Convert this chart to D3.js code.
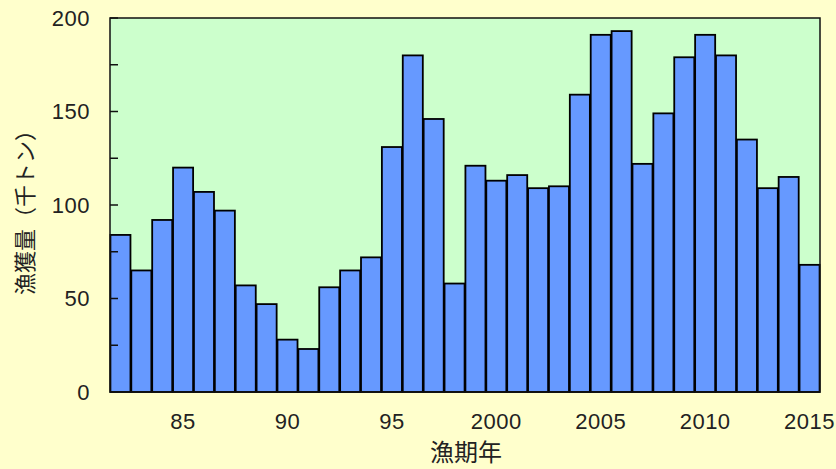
<!DOCTYPE html>
<html lang="ja">
<head>
<meta charset="UTF-8">
<title>漁獲量</title>
<script src="https://d3js.org/d3.v7.min.js"></script>
<style>
  body { margin: 0; background: #ffffcc; }
  text { font-family: "Liberation Sans", Arial, sans-serif; fill: #222; }
  .jp { font-family: "Noto Sans CJK JP", sans-serif; }
</style>
</head>
<body>
<script>
const years = d3.range(1982, 2016);
const catch_kt = [84, 65, 92, 120, 107, 97, 57, 47, 28, 23, 56, 65, 72,
                  131, 180, 146, 58, 121, 113, 116, 109, 110, 159, 191, 193,
                  122, 149, 179, 191, 180, 135, 109, 115, 68];
const yTicks = [0, 50, 100, 150, 200];
const yMinor = [25, 75, 125, 175];
const xTickYears = [1985, 1990, 1995, 2000, 2005, 2010, 2015];
const xTickLabels = ["85", "90", "95", "2000", "2005", "2010", "2015"];

const W = 836, H = 469;
const margin = { top: 18, right: 16, bottom: 77, left: 110 };
const width = W - margin.left - margin.right;
const height = H - margin.top - margin.bottom;

const svg = d3.select("body").append("svg")
    .attr("width", W)
    .attr("height", H);

svg.append("rect").attr("width", W).attr("height", H).attr("fill", "#ffffcc");

const g = svg.append("g")
    .attr("transform", `translate(${margin.left},${margin.top})`);

const x = d3.scaleBand().domain(years).range([0, width]).paddingInner(0.04).paddingOuter(0.02);
const y = d3.scaleLinear().domain([0, 200]).range([height, 0]);

g.append("rect")
    .attr("width", width)
    .attr("height", height)
    .attr("fill", "#ccffcc");

g.selectAll(".bar")
    .data(years.map((yr, i) => ({ yr, v: catch_kt[i] })))
    .enter().append("rect")
    .attr("class", "bar")
    .attr("x", d => x(d.yr))
    .attr("y", d => y(d.v))
    .attr("width", x.bandwidth())
    .attr("height", d => height - y(d.v))
    .attr("fill", "#6699ff")
    .attr("stroke", "#000")
    .attr("stroke-width", 1.8);

// frame
g.append("rect")
    .attr("width", width)
    .attr("height", height)
    .attr("fill", "none")
    .attr("stroke", "#111")
    .attr("stroke-width", 1.5);

// y ticks (inward)
g.selectAll(".ytick")
    .data(yTicks.concat(yMinor))
    .enter().append("line")
    .attr("x1", 0).attr("x2", 8)
    .attr("y1", d => y(d)).attr("y2", d => y(d))
    .attr("stroke", "#111").attr("stroke-width", 1.5);

g.selectAll(".ylab")
    .data(yTicks)
    .enter().append("text")
    .attr("x", -20)
    .attr("y", d => y(d))
    .attr("dy", "0.36em")
    .attr("text-anchor", "end")
    .style("font-size", "22px")
    .style("letter-spacing", "0.5px")
    .text(d => d);

g.selectAll(".xlab")
    .data(xTickYears)
    .enter().append("text")
    .attr("x", d => x(d) + x.bandwidth() / 2)
    .attr("y", height + 37)
    .attr("text-anchor", "middle")
    .style("font-size", "22px")
    .style("letter-spacing", "0.5px")
    .text((d, i) => xTickLabels[i]);

svg.append("text")
    .attr("class", "jp")
    .attr("x", 466)
    .attr("y", 461)
    .attr("text-anchor", "middle")
    .style("font-size", "24px")
    .text("漁期年");

svg.append("text")
    .attr("class", "jp")
    .attr("transform", "translate(33,207) rotate(-90)")
    .attr("text-anchor", "middle")
    .style("font-size", "22px")
    .text("漁獲量（千トン）");
</script>
</body>
</html>
